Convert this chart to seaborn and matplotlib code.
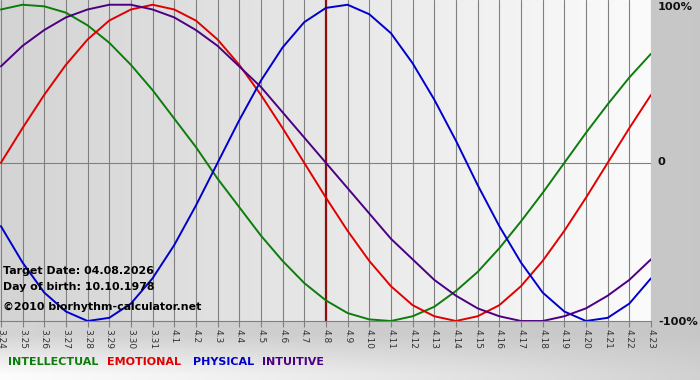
"""
Biorhythm chart: four sine-like cycles around the target date.
"""

import matplotlib.pyplot as plt
import numpy as np
import pandas as pd
import seaborn as sns

# Dni na osi X (miesiac.dzien)
days = ["3.24", "3.25", "3.26", "3.27", "3.28", "3.29", "3.30", "3.31",
        "4.1", "4.2", "4.3", "4.4", "4.5", "4.6", "4.7", "4.8", "4.9",
        "4.10", "4.11", "4.12", "4.13", "4.14", "4.15", "4.16", "4.17",
        "4.18", "4.19", "4.20", "4.21", "4.22", "4.23"]

intellectual = [0.97, 1.00, 0.99, 0.95, 0.87, 0.76, 0.62, 0.46, 0.28, 0.10,
                -0.10, -0.28, -0.46, -0.62, -0.76, -0.87, -0.95, -0.99, -1.00,
                -0.97, -0.91, -0.81, -0.69, -0.54, -0.37, -0.19, 0.00, 0.19,
                0.37, 0.54, 0.69]
emotional = [0.00, 0.22, 0.43, 0.62, 0.78, 0.90, 0.97, 1.00, 0.97, 0.90,
             0.78, 0.62, 0.43, 0.22, 0.00, -0.22, -0.43, -0.62, -0.78, -0.90,
             -0.97, -1.00, -0.97, -0.90, -0.78, -0.62, -0.43, -0.22, 0.00,
             0.22, 0.43]
physical = [-0.40, -0.63, -0.82, -0.94, -1.00, -0.98, -0.89, -0.73, -0.52,
            -0.27, 0.00, 0.27, 0.52, 0.73, 0.89, 0.98, 1.00, 0.94, 0.82, 0.63,
            0.40, 0.14, -0.14, -0.40, -0.63, -0.82, -0.94, -1.00, -0.98,
            -0.89, -0.73]
intuitive = [0.61, 0.74, 0.84, 0.92, 0.97, 1.00, 1.00, 0.97, 0.92, 0.84,
             0.74, 0.61, 0.48, 0.32, 0.16, 0.00, -0.16, -0.32, -0.48, -0.61,
             -0.74, -0.84, -0.92, -0.97, -1.00, -1.00, -0.97, -0.92, -0.84,
             -0.74, -0.61]

target_day = "4.8"
target_date = "04.08.2026"
birth_date = "10.10.1978"

curve_names = ["INTELLECTUAL", "EMOTIONAL", "PHYSICAL", "INTUITIVE"]
curve_colors = ["#0b7d0b", "#e00000", "#0000cc", "#4b0082"]

rows = []
for name, values in zip(curve_names, [intellectual, emotional, physical, intuitive]):
    for i, v in enumerate(values):
        rows.append({"pos": i, "day": days[i], "value": v, "curve": name})
df = pd.DataFrame(rows)

sns.set_style("white")
plt.rcParams["font.family"] = ["DejaVu Sans"]

fig = plt.figure(figsize=(7, 3.8), dpi=100)

# Tlo calej figury: szary z jasniejszym pasem na dole
bg = fig.add_axes([0, 0, 1, 1], zorder=-10)
h, w = 380, 700
xx = np.linspace(0, 1, w)[None, :]
yy = np.linspace(0, 1, h)[:, None]
base = 0.83 - 0.05 * xx + 0 * yy
fade = np.clip((yy * h - 335) / 40, 0, 1) * (1 - 0.8 * xx)
gray = base + (0.99 - base) * fade
bg.imshow(np.dstack([gray, gray, gray]), extent=[0, 1, 0, 1], aspect="auto")
bg.set_axis_off()

ax = fig.add_axes([0.0, 1 - 321 / 380, 651 / 700, 321 / 380])
xlim = (-0.04, 30.0)
ylim = (-1.0, 1.03)

# Gradient w obszarze wykresu
grad = np.linspace(0.83, 0.985, 200)[None, :]
ax.imshow(np.dstack([grad, grad, grad]), extent=[*xlim, *ylim], aspect="auto", zorder=0)

ax.set_axisbelow(True)
ax.xaxis.grid(True, color="#808080", linewidth=0.8)
ax.axhline(0, color="#808080", linewidth=0.8, zorder=0.6)
ax.axvline(days.index(target_day), color="#8b1010", linewidth=1.6, zorder=1)

sns.lineplot(data=df, x="pos", y="value", hue="curve", hue_order=curve_names,
             palette=curve_colors, linewidth=1.4, legend=False, ax=ax, zorder=2)

ax.set_xlim(*xlim)
ax.set_ylim(*ylim)
ax.set_xticks(range(len(days)))
ax.set_xticklabels(days, rotation=270, fontsize=6.5, color="#333333")
ax.set_yticks([])
ax.set_xlabel("")
ax.set_ylabel("")
ax.tick_params(axis="x", length=4, color="#808080", pad=2, bottom=True)
for side in ["top", "left", "right"]:
    ax.spines[side].set_visible(False)
ax.spines["bottom"].set_color("#808080")
ax.spines["bottom"].set_linewidth(0.8)

info = dict(transform=ax.transAxes, fontsize=7.9, fontweight="bold", color="black",
            ha="left", va="center", zorder=3)
ax.text(3 / 651, (321 - 271) / 321, f"Target Date: {target_date}", **info)
ax.text(3 / 651, (321 - 287) / 321, f"Day of birth: {birth_date}", **info)
ax.text(3 / 651, (321 - 307) / 321, "©2010 biorhythm-calculator.net", **info)

# Etykiety procentowe po prawej
for label, ypix in [("100%", 7), ("0", 162), ("-100%", 322)]:
    fig.text(658 / 700, 1 - ypix / 380, label, fontsize=8.2, fontweight="bold",
             ha="left", va="center", color="#111111")

# Legenda jako kolorowe slowa
for name, color, xpix in zip(curve_names, curve_colors, [8, 107, 193, 262]):
    fig.text(xpix / 700, 1 - 362 / 380, name, fontsize=8, fontweight="bold",
             color=color, ha="left", va="center")

fig.savefig("out.png", dpi=100)
